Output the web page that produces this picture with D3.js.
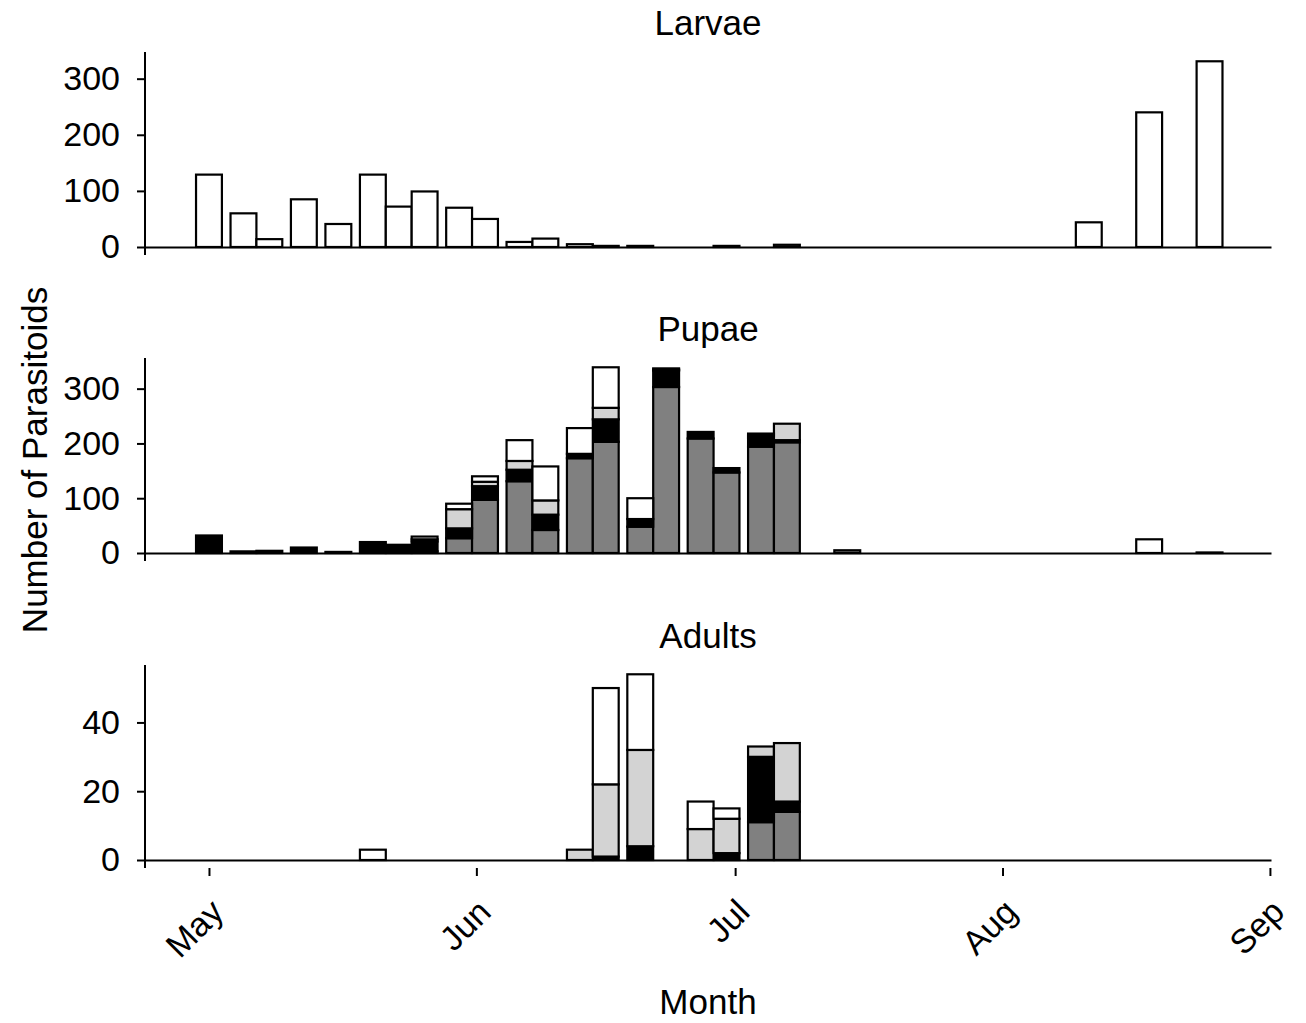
<!DOCTYPE html>
<html>
<head>
<meta charset="utf-8">
<script src="https://cdn.jsdelivr.net/npm/d3@7"></script>
<style>
  body { margin: 0; background: #fff; }
  text { font-family: "Liberation Sans", Arial, sans-serif; fill: #000; }
</style>
</head>
<body>
<div id="chart"></div>
<script>
// sampling dates (one bar per date)
const sampleDates = ["2015-05-01", "2015-05-05", "2015-05-08", "2015-05-12", "2015-05-16", "2015-05-20",
    "2015-05-23", "2015-05-26", "2015-05-30", "2015-06-02", "2015-06-06", "2015-06-09",
    "2015-06-13", "2015-06-16", "2015-06-20", "2015-06-23", "2015-06-27", "2015-06-30",
    "2015-07-04", "2015-07-07", "2015-07-14", "2015-08-11", "2015-08-18", "2015-08-25"];

// Larvae (only the white series has counts)
const larvaeWhite = [129, 60, 14, 85, 41, 129, 72, 99, 70, 50, 9, 15, 5, 2, 2, 0, 0, 2, 0, 4, 0, 44, 240, 331];

// Pupae, stacked bottom to top: dark grey, black, light grey, white
const pupaeDark  = [0, 0, 0, 0, 0, 0, 0, 3, 27, 97, 131, 42, 173, 203, 48, 303, 209, 147, 194, 202, 5, 0, 0, 0];
const pupaeBlack = [32, 3, 4, 10, 2, 20, 9, 18, 18, 25, 21, 28, 8, 41, 14, 30, 12, 8, 16, 4, 0, 0, 0, 0];
const pupaeLight = [0, 0, 0, 0, 0, 0, 2, 4, 35, 8, 16, 26, 0, 21, 0, 2, 0, 0, 4, 30, 0, 0, 0, 0];
const pupaeWhite = [0, 0, 0, 0, 0, 0, 4, 5, 10, 10, 38, 62, 47, 74, 38, 2, 0, 0, 4, 0, 0, 0, 25, 1];

// Adults
const adultsDark  = [0, 0, 0, 0, 0, 0, 0, 0, 0, 0, 0, 0, 0, 0, 0, 0, 0, 0, 11, 14, 0, 0, 0, 0];
const adultsBlack = [0, 0, 0, 0, 0, 0, 0, 0, 0, 0, 0, 0, 0, 1, 4, 0, 0, 2, 19, 3, 0, 0, 0, 0];
const adultsLight = [0, 0, 0, 0, 0, 0, 0, 0, 0, 0, 0, 0, 3, 21, 28, 0, 9, 10, 3, 17, 0, 0, 0, 0];
const adultsWhite = [0, 0, 0, 0, 0, 3, 0, 0, 0, 0, 0, 0, 0, 28, 22, 0, 8, 3, 0, 0, 0, 0, 0, 0];

const monthTicks = ["2015-05-01", "2015-06-01", "2015-07-01", "2015-08-01", "2015-09-01"];
const countTicks = [0, 100, 200, 300];
const adultTicks = [0, 20, 40];

const seriesKeys = ["dark", "black", "light", "white"];
const seriesColors = ["#808080", "#000000", "#d3d3d3", "#ffffff"];

const parseDate = d3.utcParse("%Y-%m-%d");

const panels = [
    {title: "Larvae", ticks: countTicks, series: [larvaeWhite.map(() => 0), larvaeWhite.map(() => 0), larvaeWhite.map(() => 0), larvaeWhite]},
    {title: "Pupae", ticks: countTicks, series: [pupaeDark, pupaeBlack, pupaeLight, pupaeWhite]},
    {title: "Adults", ticks: adultTicks, series: [adultsDark, adultsBlack, adultsLight, adultsWhite]}
];

const width = 1306, height = 1023;
const left = 145, right = 1271;
const panelTop = [52, 358, 665];
const panelH = 195;

const svg = d3.select("#chart")
    .append("svg")
    .attr("width", width)
    .attr("height", height);

// time scale, bars are 3 days wide centred on the sampling date
const xScale = d3.scaleUtc()
    .domain([new Date(Date.UTC(2015, 3, 23, 14)), new Date(Date.UTC(2015, 8, 1, 3))])
    .range([left, right]);
const halfBar = 1.5 * 24 * 3600 * 1000;

panels.forEach((p, pi) => {
    const rows = sampleDates.map((d, i) => {
        const row = {date: parseDate(d)};
        seriesKeys.forEach((k, j) => row[k] = p.series[j][i]);
        return row;
    });
    const layers = d3.stack().keys(seriesKeys)(rows);
    const maxTotal = d3.max(rows, r => d3.sum(seriesKeys, k => r[k]));

    const top = panelTop[pi];
    const yScale = d3.scaleLinear()
        .domain([0, maxTotal * 1.05])
        .range([top + panelH, top]);

    const g = svg.append("g");

    // bars
    layers.forEach((layer, li) => {
        g.append("g")
            .selectAll("rect")
            .data(layer.filter(d => d[1] - d[0] > 0))
            .join("rect")
            .attr("x", d => xScale(new Date(+d.data.date - halfBar)))
            .attr("width", d => xScale(new Date(+d.data.date + halfBar)) - xScale(new Date(+d.data.date - halfBar)))
            .attr("y", d => yScale(d[1]))
            .attr("height", d => yScale(d[0]) - yScale(d[1]))
            .attr("fill", seriesColors[li])
            .attr("stroke", "#000")
            .attr("stroke-width", 2.2);
    });

    // baseline
    const base = g.append("g")
        .attr("transform", `translate(0,${yScale(0)})`)
        .call(d3.axisBottom(xScale).tickValues([]).tickSizeOuter(0));
    base.select(".domain").attr("stroke-width", 2);

    // y axis
    const yAxis = g.append("g")
        .attr("transform", `translate(${left},0)`)
        .call(d3.axisLeft(yScale).tickValues(p.ticks).tickSize(8).tickPadding(17));
    yAxis.select(".domain").remove();
    yAxis.selectAll(".tick line").attr("stroke-width", 2);
    yAxis.selectAll("text").attr("font-size", 34).attr("font-family", "Liberation Sans, Arial, sans-serif");
    g.append("line")
        .attr("x1", left).attr("x2", left)
        .attr("y1", top).attr("y2", yScale(0) + 8)
        .attr("stroke", "#000")
        .attr("stroke-width", 2);

    g.append("text")
        .attr("x", (left + right) / 2)
        .attr("y", top - 17)
        .attr("text-anchor", "middle")
        .attr("font-size", 35)
        .text(p.title);
});

// month axis under the bottom panel
const xAxis = svg.append("g")
    .attr("transform", `translate(0,${panelTop[2] + panelH + 8})`)
    .call(d3.axisBottom(xScale)
        .tickValues(monthTicks.map(parseDate))
        .tickFormat(d3.utcFormat("%b"))
        .tickSize(8));
xAxis.select(".domain").remove();
xAxis.selectAll(".tick line").attr("stroke-width", 2);
xAxis.selectAll("text")
    .attr("x", 0)
    .attr("y", 0)
    .attr("dy", 0)
    .attr("text-anchor", "end")
    .attr("font-size", 34)
    .attr("font-family", "Liberation Sans, Arial, sans-serif")
    .attr("transform", "translate(16,46) rotate(-45)");

svg.append("text")
    .attr("x", (left + right) / 2)
    .attr("y", 1014)
    .attr("text-anchor", "middle")
    .attr("font-size", 35)
    .text("Month");

svg.append("text")
    .attr("transform", "translate(47,460) rotate(-90)")
    .attr("text-anchor", "middle")
    .attr("font-size", 35)
    .text("Number of Parasitoids");
</script>
</body>
</html>
